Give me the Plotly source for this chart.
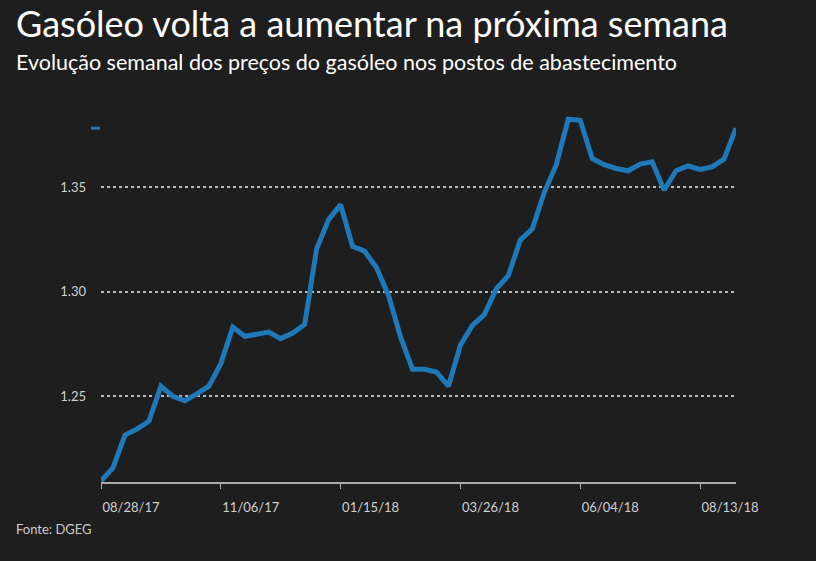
import pandas as pd
import plotly.graph_objects as go

# Weekly diesel prices (EUR/l), weeks starting 2017-08-28
start_date = "2017-08-28"
prices = [
    1.2094, 1.2157, 1.2314, 1.2342, 1.2380, 1.2548, 1.2500, 1.2478, 1.2511, 1.2548,
    1.2656, 1.2831, 1.2787, 1.2796, 1.2807, 1.2776, 1.2803, 1.2844, 1.3206, 1.3346,
    1.3418, 1.3218, 1.3195, 1.3115, 1.2983, 1.2784, 1.2629, 1.2629, 1.2616, 1.2548,
    1.2744, 1.2839, 1.2891, 1.3015, 1.3078, 1.3249, 1.3302, 1.3477, 1.3609, 1.3827,
    1.3822, 1.3639, 1.3609, 1.3591, 1.3580, 1.3612, 1.3623, 1.3488, 1.3580, 1.3603,
    1.3587, 1.3599, 1.3636, 1.3784,
]
dates = pd.date_range(start_date, periods=len(prices), freq="7D")
x_tick_vals = list(dates[::10])
y_tick_vals = [1.25, 1.30, 1.35]
y_tick_text = ["1.25", "1.30", "1.35"]

title_text = "Gasóleo volta a aumentar na próxima semana"
subtitle_text = "Evolução semanal dos preços do gasóleo nos postos de abastecimento"
source_text = "Fonte: DGEG"

BG = "#1e1e1e"
BLUE = "#1f78b8"
FONT = "Lato, 'Noto Sans', sans-serif"

fig = go.Figure()
fig.add_trace(go.Scatter(
    x=dates, y=prices, mode="lines",
    line=dict(color=BLUE, width=5, shape="linear"),
    hoverinfo="x+y", showlegend=False,
))

W, H = 816, 561
ml, mr, mt, mb = 101, 80, 104, 79
pw = W - ml - mr

fig.update_layout(
    width=W, height=H,
    paper_bgcolor=BG, plot_bgcolor=BG,
    margin=dict(l=ml, r=mr, t=mt, b=mb),
    font=dict(family=FONT, color="#d0d0d0"),
    showlegend=False,
    xaxis=dict(
        range=[dates[0], dates[-1]],
        tickvals=x_tick_vals,
        tickformat="%m/%d/%y",
        ticks="outside", ticklen=5, tickwidth=1, tickcolor="#aaaaaa",
        ticklabelposition="outside right",
        ticklabelstandoff=12,
        showline=True, linecolor="#aaaaaa", linewidth=2,
        showgrid=False, zeroline=False,
        tickfont=dict(size=13, color="#d0d0d0", family=FONT),
    ),
    yaxis=dict(
        range=[1.2089, 1.39],
        tickvals=y_tick_vals, ticktext=y_tick_text,
        showgrid=True, gridcolor="#bbbbbb", gridwidth=1.5, griddash="dot",
        zeroline=False, showline=False, ticks="",
        ticklabelstandoff=14,
        tickfont=dict(size=13, color="#d0d0d0", family=FONT),
    ),
    annotations=[
        dict(text=title_text, xref="paper", yref="paper",
             x=(14 - ml) / pw, y=1, yshift=mt + 1, xanchor="left", yanchor="top",
             showarrow=False, font=dict(size=36, color="#ffffff", family=FONT)),
        dict(text=subtitle_text, xref="paper", yref="paper",
             x=(14 - ml) / pw, y=1, yshift=mt - 47, xanchor="left", yanchor="top",
             showarrow=False, font=dict(size=21.5, color="#ffffff", family=FONT)),
        dict(text=source_text, xref="paper", yref="paper",
             x=(14 - ml) / pw, y=0, yshift=-37, xanchor="left", yanchor="top",
             showarrow=False, font=dict(size=13, color="#cccccc", family=FONT)),
    ],
    shapes=[
        dict(type="line", xref="paper", yref="y",
             x0=(91 - ml) / pw, x1=(100 - ml) / pw,
             y0=prices[-1], y1=prices[-1],
             line=dict(color=BLUE, width=3)),
    ],
)

fig.write_html(
    "out.html",
    config={"displayModeBar": False},
    post_script="document.body.style.margin='0';document.body.style.overflow='hidden';",
)
